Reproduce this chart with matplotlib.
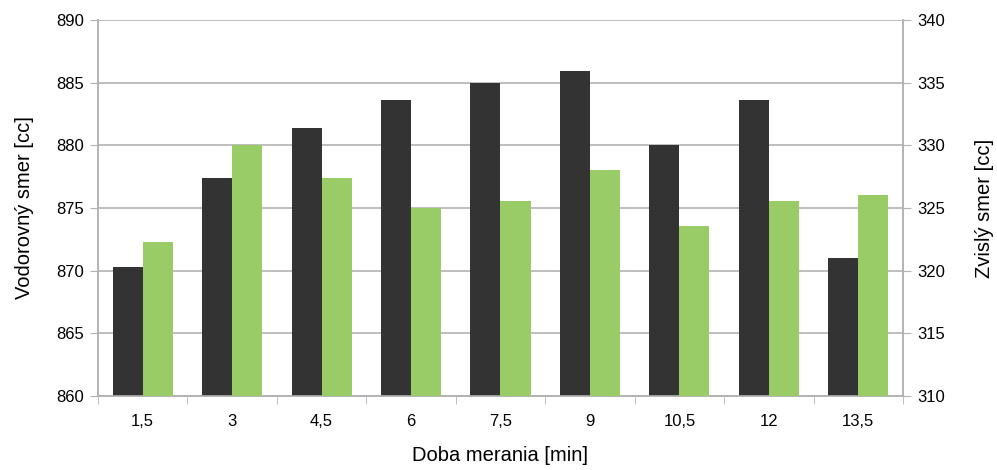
import matplotlib.pyplot as plt
import numpy as np

plt.rcParams['font.family'] = ['Liberation Sans', 'DejaVu Sans']

doba = ['1,5', '3', '4,5', '6', '7,5', '9', '10,5', '12', '13,5']
vodorovny = [870.3, 877.4, 881.4, 883.6, 885.0, 885.9, 880.0, 883.6, 871.0]
zvisly = [322.3, 330.0, 327.4, 325.0, 325.6, 328.0, 323.6, 325.6, 326.0]

dark = '#333333'
green = '#99cc66'
grid_col = '#b3b3b3'

fig = plt.figure(figsize=(9.97, 4.70), dpi=100)
ax = fig.add_axes([0.0983, 0.1574, 0.8074, 0.8000])
ax2 = ax.twinx()

x = np.arange(len(doba))
w = 0.336
ax.bar(x - w / 2, vodorovny, width=w, color=dark, zorder=3)
ax2.bar(x + w / 2, zvisly, width=w, color=green, zorder=3)

ax.set_xlim(-0.5, len(doba) - 0.5)
ax.set_ylim(860, 890)
ax2.set_ylim(310, 340)
ax.set_yticks(np.arange(860, 891, 5))
ax2.set_yticks(np.arange(310, 341, 5))

ax.set_xticks(x)
ax.set_xticklabels(doba)
ax.set_xticks(np.arange(-0.5, len(doba), 1), minor=True)
ax.tick_params(axis='x', which='major', length=0, pad=13, labelsize=12)
ax.tick_params(axis='x', which='minor', length=6, color=grid_col, direction='out')
ax.tick_params(axis='y', length=6, color=grid_col, labelsize=12, pad=4)
ax2.tick_params(axis='y', length=6, color=grid_col, labelsize=12, pad=4)

ax.yaxis.grid(True, color=grid_col, linewidth=1.2, zorder=0)
ax.set_axisbelow(True)

for a in (ax, ax2):
    a.spines['top'].set_visible(False)
    for s in ('left', 'right', 'bottom'):
        a.spines[s].set_color(grid_col)
        a.spines[s].set_linewidth(1.2)

ax.set_xlabel('Doba merania [min]', fontsize=14.5, labelpad=12)
ax.set_ylabel('Vodorovný smer [cc]', fontsize=14.5, labelpad=16)
ax2.set_ylabel('Zvislý smer [cc]', fontsize=14.5, labelpad=22)

fig.savefig('out.png', dpi=100)
